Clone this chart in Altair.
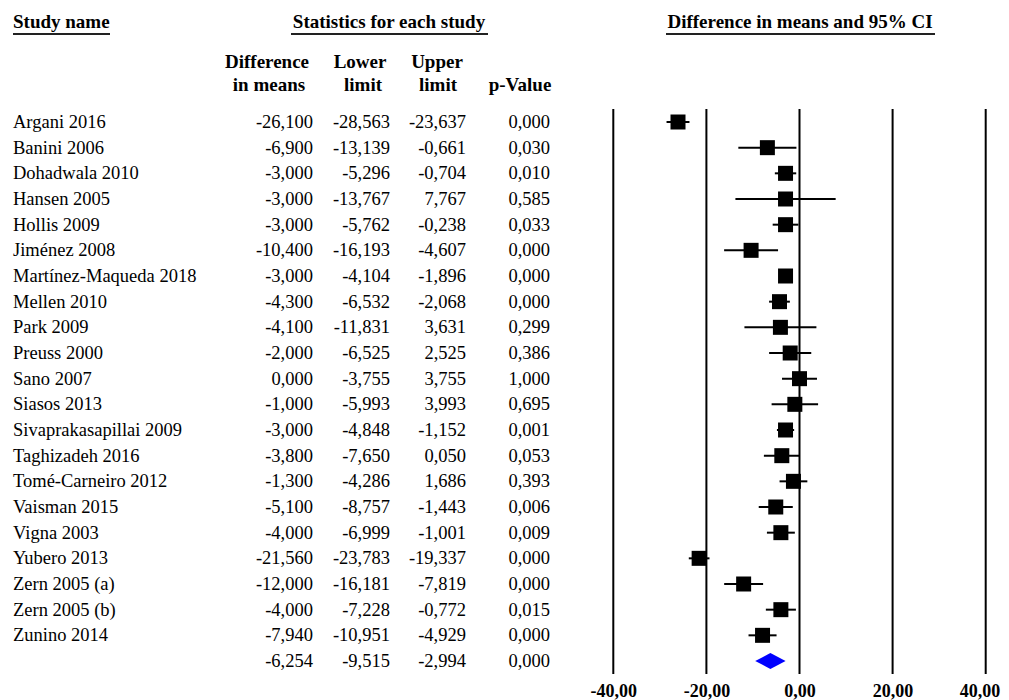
import altair as alt
import pandas as pd

studies = ["Argani 2016", "Banini 2006", "Dohadwala 2010", "Hansen 2005", "Hollis 2009",
           "Jiménez 2008", "Martínez-Maqueda 2018", "Mellen 2010", "Park 2009", "Preuss 2000",
           "Sano 2007", "Siasos 2013", "Sivaprakasapillai 2009", "Taghizadeh 2016",
           "Tomé-Carneiro 2012", "Vaisman 2015", "Vigna 2003", "Yubero 2013",
           "Zern 2005 (a)", "Zern 2005 (b)", "Zunino 2014"]
diff = [-26.100, -6.900, -3.000, -3.000, -3.000, -10.400, -3.000, -4.300, -4.100, -2.000,
        0.000, -1.000, -3.000, -3.800, -1.300, -5.100, -4.000, -21.560, -12.000, -4.000, -7.940]
lower = [-28.563, -13.139, -5.296, -13.767, -5.762, -16.193, -4.104, -6.532, -11.831, -6.525,
         -3.755, -5.993, -4.848, -7.650, -4.286, -8.757, -6.999, -23.783, -16.181, -7.228, -10.951]
upper = [-23.637, -0.661, -0.704, 7.767, -0.238, -4.607, -1.896, -2.068, 3.631, 2.525,
         3.755, 3.993, -1.152, 0.050, 1.686, -1.443, -1.001, -19.337, -7.819, -0.772, -4.929]
pval = [0.000, 0.030, 0.010, 0.585, 0.033, 0.000, 0.000, 0.000, 0.299, 0.386,
        1.000, 0.695, 0.001, 0.053, 0.393, 0.006, 0.009, 0.000, 0.000, 0.015, 0.000]
summary_diff, summary_lower, summary_upper, summary_p = -6.254, -9.515, -2.994, 0.000
ticks = [-40, -20, 0, 20, 40]

SERIF = "Liberation Serif"
FS = 18.5
HFS = 19


def fmt(v):
    return f"{v:.3f}".replace(".", ",")


n = len(studies)
rows = pd.DataFrame({
    "row": list(range(n + 1)),
    "name": studies + [""],
    "diff": diff + [summary_diff],
    "lower": lower + [summary_lower],
    "upper": upper + [summary_upper],
    "p": pval + [summary_p],
})
for c in ["diff", "lower", "upper", "p"]:
    rows[c + "_s"] = rows[c].map(fmt)
study_rows = rows.iloc[:n]

h = 0.31
diamond = pd.DataFrame({
    "x": [summary_lower, summary_diff, summary_upper],
    "y": [n, n - h, n],
    "y2": [n, n + h, n],
})
tick_df = pd.DataFrame({"t": ticks})

xscale = alt.Scale(domain=[-40, 40], range=[605.3, 977.7])
yscale = alt.Scale(domain=[0, n], range=[114, 653])
Y = alt.Y("row:Q", scale=yscale, axis=None)

last = max(ticks)
vlines = alt.Chart(tick_df).mark_rule(color="black", strokeWidth=2).encode(
    x=alt.X("t:Q", scale=xscale, title=None,
            axis=alt.Axis(values=ticks, domain=False, ticks=False, grid=False,
                          labelExpr="replace(replace(format(datum.value, '.2f'), '.', ','), '\u2212', '-')",
                          labelFont=SERIF, labelFontSize=18, labelFontWeight="bold",
                          labelColor="black", labelPadding=6, labelBaseline="top",
                          labelAlign={"expr": f"datum.value == {last} ? 'right' : 'center'"},
                          labelOffset={"expr": f"datum.value == {last} ? 14 : 0"},
                          labelFlush=False, labelOverlap=False, labelBound=False)),
    y=alt.value(101), y2=alt.value(666),
)

ci = alt.Chart(study_rows).mark_rule(color="black", strokeWidth=2).encode(
    x=alt.X("lower:Q", scale=xscale, title=None), x2="upper:Q", y=Y)
sq = alt.Chart(study_rows).mark_square(color="black", size=225, opacity=1).encode(
    x=alt.X("diff:Q", scale=xscale, title=None), y=Y)
dia = alt.Chart(diamond).mark_area(color="#0000FF", orient="vertical").encode(
    x=alt.X("x:Q", scale=xscale, title=None),
    y=alt.Y("y:Q", scale=yscale, axis=None), y2="y2:Q")


def col(field, xpos, align):
    return alt.Chart(rows).mark_text(font=SERIF, fontSize=FS, align=align, baseline="middle",
                                     color="black").encode(
        x=alt.value(xpos), y=Y, text=f"{field}:N")


one = alt.Data(values=[{"a": 1}])


def label(txt, xpos, ypos, align="center"):
    return alt.Chart(one).mark_text(text=txt, font=SERIF, fontSize=HFS, fontWeight="bold",
                                    align=align, baseline="middle", color="black").encode(
        x=alt.value(xpos), y=alt.value(ypos))


def uline(x1, x2, ypos):
    return alt.Chart(one).mark_rule(color="#222222", strokeWidth=2).encode(
        x=alt.value(x1), x2=alt.value(x2), y=alt.value(ypos))


layers = [
    vlines, ci, sq, dia,
    col("name", 5, "left"),
    col("diff_s", 305, "right"),
    col("lower_s", 382, "right"),
    col("upper_s", 458, "right"),
    col("p_s", 542, "right"),
    label("Study name", 5, 14, "left"), uline(5, 102, 26),
    label("Statistics for each study", 381, 14), uline(283, 480, 26),
    label("Difference in means and 95% CI", 792, 14), uline(658, 927, 26),
    label("Difference", 259, 54), label("in means", 261, 77),
    label("Lower", 352, 54), label("limit", 355, 77),
    label("Upper", 429, 54), label("limit", 430, 77),
    label("p-Value", 512, 77),
]

chart = alt.layer(*layers).properties(
    width=993, height=668,
    autosize=alt.AutoSizeParams(type="none"),
    padding={"left": 0, "top": 0, "right": 0, "bottom": 24},
).configure_view(stroke=None)

chart.save("out.html", embed_options={"renderer": "svg", "actions": False})
